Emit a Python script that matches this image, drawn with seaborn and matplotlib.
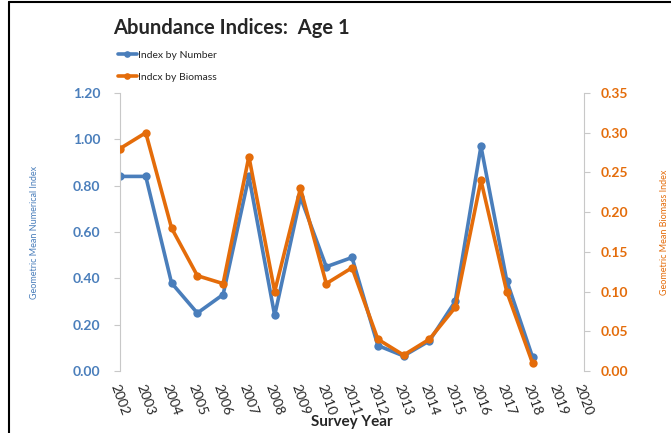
import numpy as np
import pandas as pd
import matplotlib
matplotlib.use("Agg")
import matplotlib.pyplot as plt
import seaborn as sns

years = list(range(2002, 2019))
index_by_number = [0.84, 0.84, 0.38, 0.25, 0.33, 0.84, 0.24, 0.75, 0.45, 0.49,
                   0.11, 0.065, 0.13, 0.30, 0.97, 0.39, 0.06]
index_by_biomass = [0.28, 0.30, 0.18, 0.12, 0.11, 0.27, 0.10, 0.23, 0.11, 0.13,
                    0.04, 0.02, 0.04, 0.08, 0.24, 0.10, 0.01]
year_ticks = list(range(2002, 2021))
left_ticks = [0.0, 0.2, 0.4, 0.6, 0.8, 1.0, 1.2]
right_ticks = [0.0, 0.05, 0.10, 0.15, 0.20, 0.25, 0.30, 0.35]

BLUE = "#4a7ebb"
ORANGE = "#e46c0a"

sns.set_style("white")
plt.rcParams["font.family"] = ["Lato", "DejaVu Sans"]

df = pd.DataFrame({"year": years, "num": index_by_number, "bio": index_by_biomass})

fig = plt.figure(figsize=(6.71, 4.33), dpi=100)
ax = fig.add_axes([0.1788, 0.1432, 0.6917, 0.6420])
ax2 = ax.twinx()

sns.lineplot(data=df, x="year", y="num", ax=ax, color=BLUE, marker="o",
             markersize=6, linewidth=2.6, markeredgewidth=0, label="Index by Number",
             legend=False)
sns.lineplot(data=df, x="year", y="bio", ax=ax2, color=ORANGE, marker="o",
             markersize=6, linewidth=2.6, markeredgewidth=0, label="Indcx by Biomass",
             legend=False)

ax.set_xlim(2002, 2020)
ax.set_ylim(0, 1.2)
ax2.set_ylim(0, 0.35)
ax.set_xticks(year_ticks)
ax.set_xticklabels([str(y) for y in year_ticks], rotation=-70, ha="left",
                   rotation_mode="anchor", fontsize=10)
ax.set_yticks(left_ticks)
ax.set_yticklabels([f"{v:.2f}" for v in left_ticks], color=BLUE, fontsize=10,
                   fontweight="bold")
ax2.set_yticks(right_ticks)
ax2.set_yticklabels([f"{v:.2f}" for v in right_ticks], color=ORANGE, fontsize=10,
                    fontweight="bold")

for a in (ax, ax2):
    for s in ("top", "bottom"):
        a.spines[s].set_visible(False)
    a.spines["left"].set_color("#c8c8c8")
    a.spines["right"].set_color("#c8c8c8")
ax.spines["right"].set_visible(False)
ax2.spines["left"].set_visible(False)

ax.tick_params(axis="x", length=4, color="#c8c8c8", pad=4)
ax.tick_params(axis="y", length=4, color="#c8c8c8", pad=10)
ax2.tick_params(axis="y", length=4, color="#c8c8c8", pad=8)

ax.set_xlabel("Survey Year", fontsize=11, fontweight="bold")
ax.set_ylabel("Geometric Mean Numerical Index", fontsize=6.5, color=BLUE)
ax2.set_ylabel("Geometric Mean Biomass Index", fontsize=6.5, color=ORANGE)
ax.xaxis.set_label_coords(0.5, -0.16)
ax.yaxis.set_label_coords(-0.175, 0.5)
ax2.yaxis.set_label_coords(1.163, 0.5)

fig.text(0.168, 0.935, "Abundance Indices:  Age 1", fontsize=14.5, fontweight="bold",
         ha="left", va="center")

handles = ax.get_lines()[:1] + ax2.get_lines()[:1]
fig.legend(handles, ["Index by Number", "Indcx by Biomass"], loc="upper left",
           bbox_to_anchor=(0.162, 0.905), frameon=False, fontsize=7.5,
           handlelength=1.8, handletextpad=0.1, labelspacing=1.2, markerscale=0.8)

# page border lines
fig.add_artist(plt.Line2D([0.0135, 0.0135], [0, 0.995], transform=fig.transFigure,
                          color="black", linewidth=1.5))
fig.add_artist(plt.Line2D([0.0135, 1.0], [0.995, 0.995], transform=fig.transFigure,
                          color="black", linewidth=1.5))

fig.savefig("out.png", dpi=100)
